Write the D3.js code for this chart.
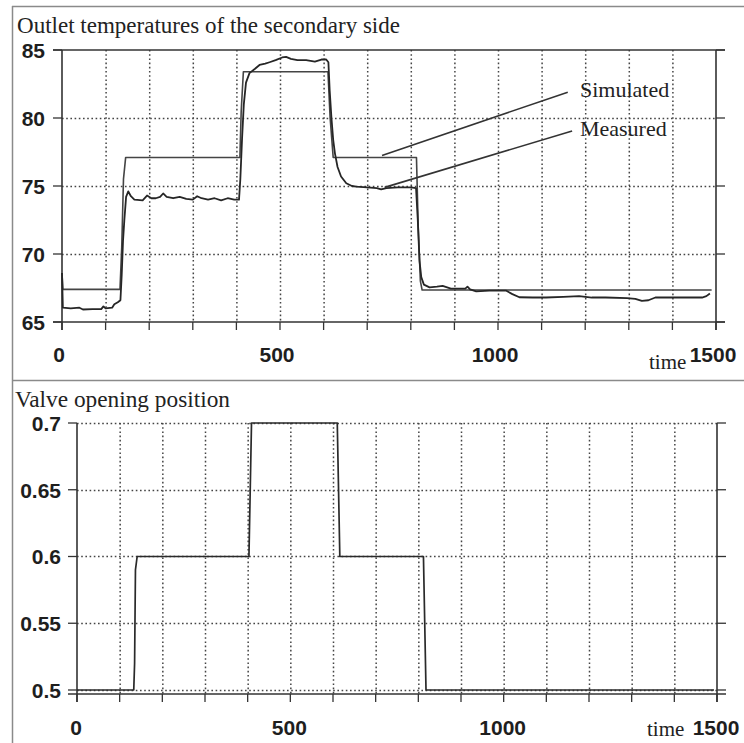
<!DOCTYPE html>
<html>
<head>
<meta charset="utf-8">
<script src="https://cdn.jsdelivr.net/npm/d3@7"></script>
<style>
  html, body { margin: 0; padding: 0; background: #ffffff; }
  svg { display: block; }
</style>
</head>
<body>
<svg id="chart" width="744" height="743"></svg>
<script>
// ---- data ----------------------------------------------------------------
// Outlet temperature, simulated (time s, °C)
const simulatedTemp = [
  [0, 68.6], [2, 67.4], [133, 67.4], [137, 70.5], [141, 75.5], [146, 77.1],
  [408, 77.1], [411, 80.5], [416, 83.4], [610, 83.4], [615, 80.0], [622, 77.1],
  [813, 77.1], [817, 72.0], [822, 68.0], [826, 67.35], [1490, 67.35]
];

// Outlet temperature, measured (time s, °C)
const measuredTemp = [
  [0, 68.6], [2, 66.05], [20, 66.0], [40, 66.05], [48, 65.92], [70, 65.95],
  [90, 65.95], [95, 66.15], [100, 66.0], [115, 66.05], [120, 66.3], [128, 66.45],
  [134, 66.6], [137, 68.5], [140, 71.0], [143, 72.5], [147, 74.2], [152, 74.6],
  [158, 74.25], [166, 74.0], [185, 73.95], [195, 74.3], [205, 74.1], [215, 74.1],
  [225, 74.2], [232, 74.45], [240, 74.2], [255, 74.1], [270, 74.2], [285, 74.05],
  [300, 74.0], [310, 74.25], [320, 74.1], [335, 74.0], [350, 74.1], [365, 73.95],
  [380, 74.1], [395, 74.0], [406, 74.0], [409, 75.5], [413, 78.5], [417, 81.0],
  [422, 82.6], [430, 83.3], [442, 83.6], [453, 83.9], [466, 84.0], [476, 84.1],
  [490, 84.25], [505, 84.45], [514, 84.5], [525, 84.35], [540, 84.25], [560, 84.25],
  [580, 84.15], [595, 84.3], [606, 84.3], [611, 84.1], [614, 82.0], [618, 80.0],
  [622, 78.4], [626, 77.4], [632, 76.4], [640, 75.7], [652, 75.2], [665, 75.0],
  [675, 74.95], [700, 74.9], [722, 74.85], [732, 74.75], [744, 74.85], [770, 74.9],
  [800, 74.9], [812, 74.85], [816, 72.5], [820, 69.5], [824, 68.3], [830, 67.75],
  [843, 67.55], [860, 67.6], [873, 67.65], [892, 67.45], [925, 67.45], [930, 67.6],
  [936, 67.4], [950, 67.25], [980, 67.3], [1019, 67.3], [1033, 67.05], [1049, 66.82],
  [1080, 66.8], [1110, 66.8], [1150, 66.85], [1186, 66.9], [1215, 66.8], [1247, 66.8],
  [1296, 66.75], [1315, 66.7], [1330, 66.55], [1345, 66.6], [1361, 66.8], [1400, 66.8],
  [1440, 66.8], [1468, 66.8], [1478, 66.9], [1486, 67.1]
];

// Valve opening position (time s, fraction)
const valvePosition = [
  [0, 0.5], [133, 0.5], [135, 0.52], [137, 0.59], [141, 0.6], [403, 0.6],
  [409, 0.7], [610, 0.7], [616, 0.6], [812, 0.6], [818, 0.5], [1493, 0.5]
];

// Axis ticks and labels
const timeTicks = d3.range(0, 1501, 100);
const timeLabels = [0, 500, 1000, 1500];
const tempTicks = [65, 70, 75, 80, 85];
const valveTicks = [0.5, 0.55, 0.6, 0.65, 0.7];

// Panel titles and series labels
const topTitle = "Outlet temperatures of the secondary side";
const bottomTitle = "Valve opening position";
const timeLabel = "time";

// Series callouts: label anchor and leader line from label to curve (data units)
const callouts = [
  { text: "Simulated", at: [1188, 81.54], from: [1160, 81.9], to: [734, 77.25] },
  { text: "Measured",  at: [1188, 78.68], from: [1170, 79.05], to: [740, 74.9] }
];

// ---- drawing -------------------------------------------------------------
const svg = d3.select("#chart");
const ink = "#333333";
const gridInk = "#444444";
const frameInk = "#8a8a8a";
const tickFont = "'Liberation Sans', Arial, sans-serif";
const serifFont = "'Liberation Serif', 'Times New Roman', serif";

// outer frame and panel separator
svg.append("line").attr("x1", 12.5).attr("x2", 12.5).attr("y1", 6).attr("y2", 743)
  .attr("stroke", frameInk).attr("stroke-width", 1.5);
svg.append("line").attr("x1", 12).attr("x2", 744).attr("y1", 6.5).attr("y2", 6.5)
  .attr("stroke", frameInk).attr("stroke-width", 1.5);
svg.append("line").attr("x1", 12).attr("x2", 744).attr("y1", 380.5).attr("y2", 380.5)
  .attr("stroke", frameInk).attr("stroke-width", 1.5);

function drawPanel(cfg) {
  const g = svg.append("g");
  const x = cfg.x, y = cfg.y;
  const [x0, x1] = x.range();
  const yBottom = y.range()[0], yTop = y.range()[1];

  // dotted grid
  g.append("g").selectAll("line.v").data(timeTicks.filter(t => t > 0 && t < 1500))
    .join("line")
    .attr("x1", d => x(d) + 0.5).attr("x2", d => x(d) + 0.5)
    .attr("y1", yTop).attr("y2", yBottom)
    .attr("stroke", gridInk).attr("stroke-width", 1.5)
    .attr("stroke-dasharray", "1.6,2.6");
  g.append("g").selectAll("line.h").data(cfg.dottedY)
    .join("line")
    .attr("x1", x0).attr("x2", x1)
    .attr("y1", d => Math.round(y(d)) + 0.5).attr("y2", d => Math.round(y(d)) + 0.5)
    .attr("stroke", gridInk).attr("stroke-width", 1.5)
    .attr("stroke-dasharray", "1.6,2.6");

  // solid frame: left, right, bottom (and top where drawn solid)
  const axisStroke = 1.6;
  g.append("line").attr("x1", x0).attr("x2", x0).attr("y1", yTop).attr("y2", yBottom + 8)
    .attr("stroke", ink).attr("stroke-width", axisStroke);
  g.append("line").attr("x1", x1).attr("x2", x1).attr("y1", yTop).attr("y2", yBottom + 8)
    .attr("stroke", ink).attr("stroke-width", axisStroke);
  g.append("line").attr("x1", x0 - 9).attr("x2", x1 + 9).attr("y1", yBottom).attr("y2", yBottom)
    .attr("stroke", ink).attr("stroke-width", axisStroke);
  if (cfg.solidTop) {
    g.append("line").attr("x1", x0 - 9).attr("x2", x1 + 9).attr("y1", yTop).attr("y2", yTop)
      .attr("stroke", ink).attr("stroke-width", axisStroke);
  }

  // x ticks (below the axis)
  g.append("g").selectAll("line").data(timeTicks).join("line")
    .attr("x1", d => x(d)).attr("x2", d => x(d))
    .attr("y1", yBottom).attr("y2", yBottom + 8)
    .attr("stroke", ink).attr("stroke-width", 1.3);

  // y ticks on both sides
  g.append("g").selectAll("line").data(cfg.yTicks).join("line")
    .attr("x1", x0 - 9).attr("x2", x0)
    .attr("y1", d => cfg.tickY(d)).attr("y2", d => cfg.tickY(d))
    .attr("stroke", ink).attr("stroke-width", 1.3);
  g.append("g").selectAll("line").data(cfg.yTicks).join("line")
    .attr("x1", x1).attr("x2", x1 + 9)
    .attr("y1", d => cfg.tickY(d)).attr("y2", d => cfg.tickY(d))
    .attr("stroke", ink).attr("stroke-width", 1.3);

  // y labels
  g.append("g").selectAll("text").data(cfg.yTicks).join("text")
    .attr("x", cfg.yLabelX).attr("y", d => y(d) + 8)
    .attr("text-anchor", "end")
    .attr("font-family", tickFont).attr("font-weight", "bold")
    .attr("font-size", 21).attr("fill", "#1e1e1e")
    .text(cfg.yFormat);

  // x labels
  g.append("g").selectAll("text").data(timeLabels).join("text")
    .attr("x", d => x(d) + cfg.xLabelShift).attr("y", cfg.xLabelBaseline)
    .attr("text-anchor", "middle")
    .attr("font-family", tickFont).attr("font-weight", "bold")
    .attr("font-size", 21).attr("fill", "#1e1e1e")
    .text(d => d);

  // "time" axis name
  g.append("text")
    .attr("x", cfg.timeX).attr("y", cfg.timeBaseline)
    .attr("font-family", serifFont).attr("font-size", 21).attr("fill", "#222")
    .text(timeLabel);

  // panel title
  g.append("text")
    .attr("x", cfg.titleX).attr("y", cfg.titleBaseline)
    .attr("font-family", serifFont).attr("font-size", 22.5).attr("fill", "#222")
    .attr("textLength", cfg.titleWidth).attr("lengthAdjust", "spacingAndGlyphs")
    .text(cfg.title);

  return g;
}

// ---- top panel: outlet temperatures --------------------------------------
const xTop = d3.scaleLinear().domain([0, 1500]).range([62, 716]);
const yTop = d3.scaleLinear().domain([65, 85]).range([322, 50]);

const gTop = drawPanel({
  x: xTop, y: yTop,
  dottedY: [70, 75, 80],
  solidTop: true,
  yTicks: tempTicks,
  tickY: d => yTop(d),
  yLabelX: 45,
  yFormat: d => d,
  xLabelShift: -3,
  xLabelBaseline: 362,
  timeX: 649, timeBaseline: 369,
  title: topTitle, titleX: 17, titleBaseline: 33, titleWidth: 383
});

const lineTop = d3.line().x(d => xTop(d[0])).y(d => yTop(d[1]));
gTop.append("path").datum(simulatedTemp).attr("d", lineTop)
  .attr("fill", "none").attr("stroke", "#444").attr("stroke-width", 1.6)
  .attr("stroke-linejoin", "round");
gTop.append("path").datum(measuredTemp).attr("d", lineTop)
  .attr("fill", "none").attr("stroke", "#262626").attr("stroke-width", 1.8)
  .attr("stroke-linejoin", "round");

// series callouts with leader lines
callouts.forEach(c => {
  gTop.append("line")
    .attr("x1", xTop(c.from[0])).attr("y1", yTop(c.from[1]))
    .attr("x2", xTop(c.to[0])).attr("y2", yTop(c.to[1]))
    .attr("stroke", "#333").attr("stroke-width", 1.6);
  gTop.append("text")
    .attr("x", xTop(c.at[0])).attr("y", yTop(c.at[1]))
    .attr("font-family", serifFont).attr("font-size", 22).attr("fill", "#222")
    .text(c.text);
});

// ---- bottom panel: valve opening -----------------------------------------
const xBot = d3.scaleLinear().domain([0, 1500]).range([77, 717]);
const yBot = d3.scaleLinear().domain([0.497, 0.7]).range([694, 423]);

const gBot = drawPanel({
  x: xBot, y: yBot,
  dottedY: [0.5, 0.55, 0.6, 0.65, 0.7],
  solidTop: false,
  yTicks: valveTicks,
  tickY: d => yBot(d),
  yLabelX: 61,
  yFormat: d => String(d),
  xLabelShift: -1,
  xLabelBaseline: 735,
  timeX: 647, timeBaseline: 736,
  title: bottomTitle, titleX: 15, titleBaseline: 407, titleWidth: 215
});

const lineBot = d3.line().x(d => xBot(d[0])).y(d => yBot(d[1]));
gBot.append("path").datum(valvePosition).attr("d", lineBot)
  .attr("fill", "none").attr("stroke", "#2a2a2a").attr("stroke-width", 1.7)
  .attr("stroke-linejoin", "round");
</script>
</body>
</html>
